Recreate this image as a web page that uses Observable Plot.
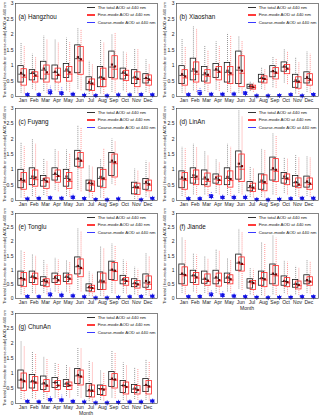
<!DOCTYPE html>
<html><head><meta charset="utf-8">
<script src="https://cdn.jsdelivr.net/npm/d3@7"></script>
<script src="https://cdn.jsdelivr.net/npm/@observablehq/plot@0.6"></script>
<style>
html,body{margin:0;padding:0;background:#fff;}
#root{position:relative;width:320px;height:416px;overflow:hidden;font-family:"Liberation Sans",Arial,sans-serif;}
.pn{position:absolute;}
.lg{position:absolute;font-size:4.4px;color:#222;white-space:nowrap;}
.lg div{height:7.6px;line-height:7.6px;display:flex;align-items:center;}
.lg span.sw{display:inline-block;width:8px;height:1.4px;margin-right:2.5px;}
.yl{position:absolute;font-size:4px;color:#222;white-space:nowrap;transform:translate(-50%,-50%) rotate(-90deg);}
.xl{position:absolute;font-size:5px;line-height:5px;color:#222;white-space:nowrap;transform:translate(-50%,-50%);}
</style></head><body><div id="root"></div>
<script>
// ---------- data ----------
const months = ["Jan","Feb","Mar","Apr","May","Jun","Jul","Aug","Sep","Oct","Nov","Dec"];
const yTicks = [0, 0.5, 1, 1.5, 2, 2.5, 3];
const sites = ["(a) Hangzhou","(b) Xiaoshan","(c) Fuyang","(d) LinAn","(e) Tonglu","(f) Jiande","(g) ChunAn"];
const seriesNames = ["The total AOD at 440  nm","Fine-mode AOD at 440  nm","Coarse-mode AOD at 440  nm"];
const yLabel = "The total ( fine-mode or coarse-mode) AOD at 440 nm";
const xLabel = "Month";
// each entry: [lower whisker, q1, median, q3, upper whisker, mean]
const hangzhouTotal = [[0.12,0.45,0.72,0.98,1.75,0.76],[0.25,0.52,0.74,0.85,1.38,0.77],[0.18,0.55,0.85,1.12,1.97,0.90],[0.2,0.55,0.78,1.0,1.85,0.80],[0.2,0.6,0.82,1.05,1.9,0.87],[0.25,0.75,1.22,1.65,2.2,1.27],[0.08,0.2,0.42,0.62,1.15,0.47],[0.1,0.3,0.6,0.95,1.85,0.63],[0.15,0.6,0.95,1.45,2.0,1.03],[0.2,0.55,0.75,0.9,1.48,0.78],[0.12,0.4,0.6,0.85,1.55,0.63],[0.15,0.42,0.58,0.72,1.2,0.60]];
const hangzhouFine = [[0.1,0.35,0.62,0.88,1.62,0.68],[0.2,0.45,0.65,0.78,1.28,0.68],[0.12,0.45,0.72,1.0,1.85,0.78],[0.15,0.45,0.68,0.9,1.75,0.70],[0.15,0.48,0.72,0.95,1.75,0.78],[0.2,0.7,1.15,1.6,2.15,1.20],[0.06,0.18,0.38,0.55,1.05,0.42],[0.08,0.3,0.55,0.9,1.75,0.58],[0.12,0.55,0.88,1.3,2.05,0.97],[0.15,0.5,0.68,0.83,1.42,0.70],[0.1,0.3,0.55,0.78,1.55,0.57],[0.12,0.35,0.52,0.68,1.05,0.55]];
const hangzhouCoarse = [[0.01,0.03,0.05,0.07,0.12,0.06],[0.01,0.03,0.05,0.07,0.12,0.06],[0.03,0.07,0.12,0.2,0.35,0.13],[0.02,0.06,0.09,0.14,0.3,0.10],[0.02,0.04,0.06,0.09,0.16,0.07],[0.01,0.02,0.03,0.05,0.1,0.04],[0.01,0.01,0.02,0.03,0.06,0.03],[0.005,0.01,0.02,0.03,0.05,0.02],[0.01,0.03,0.04,0.06,0.1,0.05],[0.01,0.03,0.04,0.06,0.1,0.05],[0.01,0.03,0.05,0.08,0.15,0.06],[0.01,0.03,0.04,0.07,0.12,0.05]];
const xiaoshanTotal = [[0.12,0.4,0.68,0.98,1.85,0.72],[0.2,0.52,0.82,1.22,2.27,0.88],[0.18,0.48,0.7,0.95,1.65,0.75],[0.22,0.6,0.85,1.05,1.78,0.88],[0.15,0.45,0.78,1.08,2.05,0.83],[0.12,0.4,0.85,1.45,1.95,0.93],[0.18,0.25,0.32,0.38,0.5,0.33],[0.25,0.45,0.58,0.7,0.95,0.60],[0.3,0.62,0.8,0.98,1.3,0.82],[0.45,0.8,0.95,1.1,1.52,0.97],[0.1,0.28,0.48,0.7,1.25,0.52],[0.15,0.42,0.58,0.78,1.45,0.62]];
const xiaoshanFine = [[0.1,0.35,0.6,0.85,1.6,0.65],[0.15,0.45,0.72,1.1,2.2,0.80],[0.15,0.42,0.65,0.85,1.5,0.70],[0.18,0.52,0.78,0.95,1.62,0.80],[0.12,0.4,0.7,0.95,1.98,0.75],[0.1,0.3,0.75,1.3,1.8,0.83],[0.15,0.22,0.29,0.35,0.45,0.30],[0.22,0.42,0.55,0.65,0.88,0.57],[0.28,0.55,0.75,0.92,1.22,0.77],[0.4,0.72,0.88,1.02,1.45,0.90],[0.08,0.25,0.45,0.62,1.1,0.48],[0.12,0.35,0.52,0.72,1.38,0.55]];
const xiaoshanCoarse = [[0.01,0.03,0.05,0.07,0.12,0.06],[0.03,0.06,0.09,0.18,0.3,0.10],[0.02,0.04,0.06,0.09,0.15,0.07],[0.02,0.04,0.06,0.09,0.15,0.07],[0.02,0.04,0.06,0.09,0.15,0.08],[0.03,0.06,0.09,0.14,0.22,0.10],[0.005,0.01,0.02,0.03,0.05,0.02],[0.005,0.01,0.02,0.03,0.05,0.02],[0.01,0.02,0.03,0.04,0.07,0.03],[0.02,0.04,0.05,0.07,0.11,0.06],[0.005,0.01,0.02,0.03,0.06,0.02],[0.02,0.04,0.06,0.08,0.13,0.06]];
const fuyangTotal = [[0.1,0.4,0.65,1.0,1.9,0.70],[0.15,0.5,0.72,1.05,2.0,0.78],[0.18,0.45,0.65,0.8,1.37,0.70],[0.35,0.65,0.85,1.05,1.67,0.88],[0.15,0.45,0.72,1.0,1.67,0.78],[0.35,1.1,1.35,1.62,2.45,1.37],[0.1,0.32,0.55,0.65,1.17,0.58],[0.1,0.45,0.72,1.05,1.35,0.77],[0.55,0.8,1.25,1.55,2.02,1.30],null,[0.05,0.2,0.42,0.58,1.05,0.45],[0.12,0.35,0.55,0.7,1.3,0.60]];
const fuyangFine = [[0.08,0.35,0.6,0.9,1.77,0.65],[0.12,0.45,0.68,0.98,1.85,0.75],[0.15,0.38,0.6,0.72,1.3,0.62],[0.3,0.58,0.78,0.98,1.6,0.80],[0.12,0.38,0.62,0.9,1.55,0.68],[0.3,1.05,1.28,1.55,2.38,1.30],[0.08,0.28,0.5,0.62,1.1,0.55],[0.08,0.4,0.68,1.0,1.7,0.72],[0.5,0.75,1.2,1.5,1.95,1.25],null,[0.04,0.18,0.4,0.55,0.97,0.43],[0.1,0.3,0.5,0.65,1.25,0.53]];
const fuyangCoarse = [[0.01,0.03,0.05,0.06,0.1,0.05],[0.02,0.04,0.06,0.08,0.15,0.07],[0.02,0.05,0.08,0.11,0.18,0.08],[0.02,0.04,0.06,0.09,0.15,0.07],[0.03,0.06,0.09,0.13,0.22,0.10],[0.02,0.04,0.06,0.08,0.13,0.06],[0.01,0.02,0.03,0.04,0.07,0.03],[0.005,0.01,0.02,0.03,0.05,0.02],[0.01,0.03,0.04,0.06,0.1,0.05],null,[0.005,0.01,0.02,0.03,0.05,0.02],[0.02,0.04,0.06,0.08,0.14,0.07]];
const linanTotal = [[0.15,0.4,0.7,0.95,1.75,0.75],[0.2,0.55,0.75,1.05,1.85,0.82],[0.2,0.5,0.7,0.98,1.6,0.75],[0.25,0.55,0.7,0.85,1.35,0.75],[0.18,0.5,0.72,1.05,1.85,0.77],[0.25,0.68,1.1,1.6,2.95,1.20],[0.12,0.3,0.42,0.6,1.1,0.47],[0.12,0.35,0.6,0.85,1.7,0.65],[0.2,0.65,1.0,1.4,2.2,1.05],[0.25,0.55,0.72,0.9,1.42,0.78],[0.15,0.45,0.58,0.8,1.48,0.60],[0.15,0.42,0.58,0.78,1.45,0.62]];
const linanFine = [[0.12,0.35,0.65,0.9,1.7,0.70],[0.18,0.5,0.7,0.98,1.75,0.78],[0.15,0.45,0.62,0.88,1.48,0.68],[0.2,0.5,0.65,0.78,1.25,0.67],[0.15,0.42,0.65,0.95,1.75,0.70],[0.2,0.6,1.02,1.5,2.75,1.12],[0.1,0.28,0.38,0.55,1.05,0.42],[0.1,0.3,0.55,0.82,1.65,0.60],[0.18,0.6,0.95,1.35,2.12,1.00],[0.2,0.5,0.68,0.85,1.38,0.72],[0.12,0.4,0.5,0.72,1.4,0.52],[0.12,0.35,0.52,0.72,1.4,0.55]];
const linanCoarse = [[0.01,0.03,0.05,0.07,0.12,0.06],[0.01,0.03,0.05,0.07,0.12,0.06],[0.04,0.08,0.12,0.18,0.3,0.13],[0.03,0.06,0.09,0.12,0.2,0.10],[0.03,0.06,0.09,0.12,0.2,0.10],[0.03,0.06,0.09,0.12,0.2,0.10],[0.01,0.02,0.03,0.04,0.07,0.03],[0.005,0.01,0.02,0.03,0.05,0.02],[0.01,0.02,0.03,0.05,0.08,0.04],[0.01,0.03,0.05,0.07,0.12,0.06],[0.02,0.04,0.06,0.09,0.15,0.07],[0.02,0.04,0.06,0.09,0.15,0.07]];
const tongluTotal = [[0.15,0.45,0.7,0.95,1.72,0.72],[0.2,0.55,0.75,0.95,1.55,0.78],[0.2,0.45,0.6,0.75,1.35,0.65],[0.25,0.55,0.7,0.88,1.45,0.75],[0.25,0.58,0.75,0.88,1.35,0.77],[0.3,0.85,1.12,1.45,2.47,1.15],[0.1,0.25,0.38,0.5,0.95,0.40],[0.1,0.3,0.58,0.92,1.85,0.63],[0.2,0.65,1.0,1.3,1.95,1.02],[0.2,0.5,0.65,0.8,1.38,0.68],[0.15,0.4,0.52,0.68,1.12,0.55],[0.12,0.38,0.55,0.85,1.6,0.62]];
const tongluFine = [[0.12,0.4,0.65,0.9,1.65,0.68],[0.18,0.48,0.7,0.88,1.52,0.72],[0.15,0.4,0.55,0.68,1.2,0.60],[0.2,0.48,0.62,0.8,1.38,0.65],[0.2,0.5,0.68,0.82,1.3,0.70],[0.25,0.75,1.05,1.38,2.38,1.08],[0.08,0.22,0.35,0.45,0.88,0.37],[0.08,0.3,0.55,0.88,1.78,0.60],[0.18,0.62,0.95,1.25,1.85,0.98],[0.18,0.45,0.6,0.72,1.3,0.62],[0.12,0.35,0.48,0.62,1.05,0.50],[0.1,0.3,0.5,0.78,1.5,0.57]];
const tongluCoarse = [[0.02,0.04,0.06,0.08,0.14,0.07],[0.02,0.04,0.06,0.08,0.14,0.06],[0.04,0.08,0.12,0.18,0.35,0.13],[0.03,0.07,0.1,0.14,0.25,0.11],[0.02,0.05,0.08,0.11,0.2,0.09],[0.01,0.03,0.05,0.07,0.12,0.06],[0.005,0.01,0.02,0.03,0.05,0.02],[0.005,0.01,0.02,0.03,0.05,0.02],[0.01,0.02,0.04,0.05,0.08,0.04],[0.02,0.04,0.05,0.07,0.12,0.06],[0.02,0.04,0.06,0.08,0.15,0.07],[0.02,0.04,0.07,0.1,0.18,0.08]];
const jiandeTotal = [[0.2,0.5,0.85,1.2,2.15,0.88],[0.25,0.55,0.8,0.98,1.6,0.82],[0.2,0.52,0.68,0.95,1.5,0.70],[0.2,0.5,0.72,0.98,1.75,0.75],[0.25,0.55,0.72,0.88,1.42,0.75],[0.35,0.98,1.25,1.55,2.47,1.27],[0.15,0.35,0.58,0.68,1.1,0.60],[0.12,0.45,0.7,0.95,2.0,0.72],[0.15,0.5,0.85,1.2,2.22,0.88],[0.2,0.45,0.6,0.78,1.35,0.62],[0.15,0.38,0.5,0.65,1.15,0.52],[0.2,0.5,0.62,0.82,1.37,0.65]];
const jiandeFine = [[0.15,0.45,0.8,1.1,2.08,0.83],[0.2,0.48,0.72,0.9,1.55,0.75],[0.15,0.45,0.6,0.85,1.42,0.63],[0.15,0.42,0.62,0.88,1.68,0.65],[0.2,0.5,0.65,0.82,1.35,0.68],[0.3,0.95,1.2,1.45,2.35,1.22],[0.12,0.3,0.52,0.62,1.05,0.55],[0.1,0.4,0.65,0.9,1.95,0.68],[0.12,0.45,0.8,1.15,2.15,0.85],[0.15,0.4,0.55,0.72,1.3,0.58],[0.12,0.32,0.45,0.6,1.1,0.48],[0.18,0.45,0.58,0.75,1.32,0.60]];
const jiandeCoarse = [[0.02,0.04,0.06,0.08,0.13,0.06],[0.02,0.04,0.06,0.09,0.16,0.07],[0.05,0.09,0.13,0.18,0.32,0.13],[0.03,0.06,0.1,0.15,0.28,0.11],[0.03,0.05,0.08,0.11,0.2,0.08],[0.02,0.04,0.06,0.08,0.13,0.06],[0.01,0.02,0.03,0.05,0.08,0.04],[0.005,0.01,0.02,0.03,0.05,0.03],[0.01,0.02,0.03,0.05,0.08,0.04],[0.01,0.02,0.03,0.05,0.08,0.04],[0.02,0.04,0.06,0.08,0.13,0.06],[0.02,0.04,0.06,0.08,0.13,0.06]];
const chunanTotal = [[0.15,0.5,0.78,1.1,2.07,0.80],[0.18,0.5,0.72,0.95,1.72,0.75],[0.15,0.45,0.65,0.9,1.57,0.68],[0.2,0.52,0.7,0.85,1.38,0.70],[0.25,0.55,0.65,0.78,1.3,0.67],[0.25,0.65,0.92,1.15,1.88,0.95],[0.08,0.22,0.42,0.65,1.42,0.45],[0.12,0.28,0.5,0.6,1.1,0.48],[0.2,0.55,0.8,1.05,1.78,0.83],[0.12,0.35,0.6,0.75,1.37,0.60],[0.15,0.35,0.48,0.62,1.22,0.50],[0.12,0.38,0.6,0.82,1.48,0.62]];
const chunanFine = [[0.12,0.42,0.72,1.0,1.9,0.75],[0.15,0.42,0.68,0.88,1.68,0.70],[0.12,0.38,0.58,0.78,1.5,0.60],[0.15,0.45,0.6,0.75,1.35,0.60],[0.2,0.45,0.6,0.7,1.2,0.60],[0.2,0.6,0.88,1.1,1.85,0.90],[0.06,0.2,0.4,0.6,1.38,0.43],[0.1,0.25,0.48,0.58,1.05,0.46],[0.18,0.5,0.78,0.98,1.7,0.80],[0.1,0.3,0.55,0.7,1.27,0.55],[0.12,0.3,0.45,0.58,1.15,0.45],[0.1,0.3,0.55,0.75,1.4,0.57]];
const chunanCoarse = [[0.02,0.04,0.06,0.08,0.14,0.07],[0.01,0.03,0.05,0.07,0.12,0.05],[0.04,0.08,0.11,0.15,0.28,0.12],[0.04,0.07,0.1,0.14,0.3,0.11],[0.02,0.04,0.06,0.09,0.15,0.07],[0.01,0.03,0.04,0.06,0.1,0.05],[0.005,0.01,0.02,0.03,0.05,0.02],[0.005,0.01,0.02,0.03,0.05,0.02],[0.01,0.02,0.03,0.05,0.08,0.04],[0.01,0.02,0.04,0.06,0.1,0.05],[0.01,0.02,0.04,0.06,0.1,0.05],[0.02,0.04,0.07,0.1,0.16,0.08]];

// ---------- layout ----------
const colors = {
  total: {box:"#1a1a1a", wh:"#8a8a8a", mean:"#000", lg:"#333"},
  fine: {box:"#ff2a2a", wh:"#ff8a8a", mean:"#7a0000", lg:"#ff3a3a"},
  coarse: {box:"#2a2aff", wh:"#7a7aff", mean:"#1010e0", lg:"#3a3aff"}
};
const cols = [{left:0, ml:15, mr:3}, {left:160, ml:16, mr:2}];
const rows = [{top:0, h:105, mt:3, mb:9}, {top:105, h:105, mt:3, mb:10}, {top:210, h:100, mt:3, mb:12}, {top:310, h:106, mt:3, mb:13}];
const panelData = [
  [hangzhouTotal, hangzhouFine, hangzhouCoarse],
  [xiaoshanTotal, xiaoshanFine, xiaoshanCoarse],
  [fuyangTotal, fuyangFine, fuyangCoarse],
  [linanTotal, linanFine, linanCoarse],
  [tongluTotal, tongluFine, tongluCoarse],
  [jiandeTotal, jiandeFine, jiandeCoarse],
  [chunanTotal, chunanFine, chunanCoarse]
];
const monthLabelPanels = [5, 6];

const toRows = (stats, off) => stats.map((s, i) => s && {m: i + 1, off, lo: s[0], q1: s[1], med: s[2], q3: s[3], hi: s[4], mean: s[5]}).filter(Boolean);

function boxMarks(data, c, half, meanR) {
  const cx = d => d.m + d.off;
  return [
    Plot.link(data, {x1: cx, x2: cx, y1: "q3", y2: "hi", stroke: c.wh, strokeWidth: 0.9, strokeDasharray: "1,1"}),
    Plot.link(data, {x1: cx, x2: cx, y1: "lo", y2: "q1", stroke: c.wh, strokeWidth: 0.9, strokeDasharray: "1,1"}),
    Plot.rect(data, {x1: d => cx(d) - half, x2: d => cx(d) + half, y1: "q1", y2: "q3", stroke: c.box, fill: "none", strokeWidth: 0.8}),
    Plot.link(data, {x1: d => cx(d) - half, x2: d => cx(d) + half, y1: "med", y2: "med", stroke: c.box, strokeWidth: 0.8}),
    Plot.dot(data, {x: cx, y: "mean", symbol: "square", r: meanR, fill: c.mean, stroke: null})
  ];
}

const root = document.getElementById("root");
const monthIdx = months.map((_, i) => i + 1);

panelData.forEach((pd, k) => {
  const col = cols[k % 2], row = rows[Math.floor(k / 2)];
  const total = toRows(pd[0], -0.16), fine = toRows(pd[1], 0.12), coarse = toRows(pd[2], 0.42);
  const svg = Plot.plot({
    width: 160, height: row.h,
    marginLeft: col.ml, marginRight: col.mr, marginTop: row.mt, marginBottom: row.mb,
    style: {fontFamily: "Liberation Sans, Arial, sans-serif", fontSize: "5px", overflow: "visible", background: "transparent", color: "#222"},
    x: {domain: [0.35, 12.85]},
    y: {domain: [0, 3]},
    marks: [
      Plot.axisX({ticks: monthIdx, tickFormat: i => months[i - 1], tickSize: 0, tickPadding: 1.5, fontSize: 5, label: null}),
      Plot.axisY({ticks: yTicks, tickFormat: d => String(d), tickSize: 0, tickPadding: 2, fontSize: 5, label: null}),
      ...boxMarks(total, colors.total, 0.24, 1.2),
      ...boxMarks(fine, colors.fine, 0.24, 1.2),
      ...boxMarks(coarse, colors.coarse, 0.14, 1.5),
      Plot.dot(coarse, {x: d => d.m + d.off, y: "mean", symbol: "asterisk", r: 2.3, stroke: colors.coarse.mean, strokeWidth: 0.8}),
      Plot.frame({stroke: "#333", strokeWidth: 0.6}),
      Plot.text([sites[k]], {text: d => d, frameAnchor: "top-left", dx: 3, dy: 11, fontSize: 6.3, textAnchor: "start", fill: "#111"})
    ]
  });
  const wrap = document.createElement("div");
  wrap.className = "pn";
  wrap.style.left = col.left + "px";
  wrap.style.top = row.top + "px";
  wrap.appendChild(svg);
  root.appendChild(wrap);

  const frameTop = row.top + row.mt, frameBottom = row.top + row.h - row.mb;
  const frameLeft = col.left + col.ml, frameRight = col.left + 160 - col.mr;

  // legend (right-aligned inside the frame)
  const lg = document.createElement("div");
  lg.className = "lg";
  lg.style.right = (320 - frameRight + 1.5) + "px";
  lg.style.top = (frameTop + 0.5) + "px";
  ["total", "fine", "coarse"].forEach((key, i) => {
    const line = document.createElement("div");
    const sw = document.createElement("span");
    sw.className = "sw";
    sw.style.background = colors[key].lg;
    line.appendChild(sw);
    line.appendChild(document.createTextNode(seriesNames[i]));
    lg.appendChild(line);
  });
  root.appendChild(lg);

  // y label
  const yl = document.createElement("div");
  yl.className = "yl";
  yl.textContent = yLabel;
  yl.style.left = (col.left + 3.5) + "px";
  yl.style.top = ((frameTop + frameBottom) / 2) + "px";
  root.appendChild(yl);

  if (monthLabelPanels.includes(k)) {
    const xl = document.createElement("div");
    xl.className = "xl";
    xl.textContent = xLabel;
    xl.style.left = ((frameLeft + frameRight) / 2) + "px";
    xl.style.top = (frameBottom + 10) + "px";
    root.appendChild(xl);
  }
});
</script></body></html>
